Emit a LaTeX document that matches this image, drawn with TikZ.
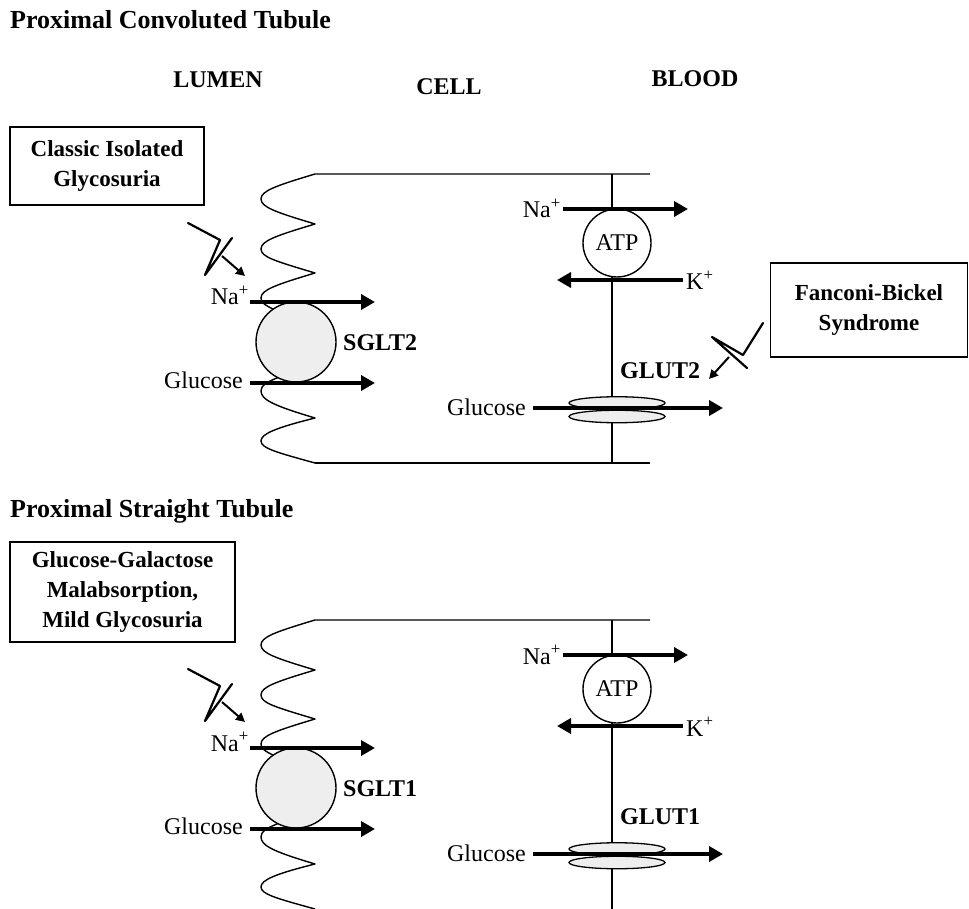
\documentclass[tikz,border=0pt]{standalone}
\usepackage{fontspec}
\setmainfont{Liberation Serif}
\usetikzlibrary{arrows.meta,shapes.geometric}
\definecolor{protfill}{HTML}{EEEEEE}
\newcommand\labfont{\fontsize{24}{28}\selectfont}
\tikzset{
  membrane/.style={line width=1.4pt, line join=round},
  bigarrow/.style={line width=4.8pt, -{Triangle[length=14pt,width=15pt]}},
  smallarrow/.style={line width=2pt, -{Triangle[length=9pt,width=9pt]}},
  bolt/.style={line width=2.2pt, line join=round, line cap=round},
  carrier/.style={circle, draw, line width=1.4pt, fill=protfill, minimum size=80pt, inner sep=0pt},
  pump/.style={circle, draw, line width=1.4pt, fill=white, minimum size=68pt, inner sep=0pt, font=\labfont},
  channel/.style={ellipse, draw, line width=1.3pt, fill=protfill, minimum width=96pt, minimum height=12.5pt, inner sep=0pt},
  lab/.style={font=\labfont, inner sep=0pt},
  boldlab/.style={font=\labfont\bfseries, inner sep=0pt},
  headtext/.style={font=\fontsize{26}{30}\selectfont\bfseries, inner sep=0pt, anchor=base west},
  disbox/.style={draw, line width=1.5pt, inner sep=0pt, align=center, font=\fontsize{23}{30}\selectfont\bfseries},
}
\newcommand\tubulepanel[4]{%
\begin{scope}[shift={(0,#1)}]
  % apical (lumen) brush-border membrane
  \draw[membrane] (650,174) -- (315,174)
    .. controls (275,186) and (261,191) .. (261,199)
    .. controls (261,207) and (275,212) .. (315,224)
    .. controls (275,236) and (261,241) .. (261,249)
    .. controls (261,257) and (275,261) .. (315,273)
    .. controls (275,285) and (261,290) .. (261,298)
    .. controls (261,304) and (270,309) .. (290,315);
  \draw[membrane] (285,375)
    .. controls (265,382) and (261,386) .. (261,391)
    .. controls (261,400) and (275,406) .. (315,418)
    .. controls (275,428) and (261,434) .. (261,441)
    .. controls (261,448) and (275,452) .. (315,463);
  % basolateral membrane
  \coordinate (#2mtop) at (612,174);
  \coordinate (#2mbot) at (612,463);
  \draw[membrane] (#2mtop) -- (#2mbot);
  % transport proteins
  \node[carrier] (#2sglt) at (296,342) {};
  \node[pump] (#2atp) at (617,243) {ATP};
  \node[channel] (#2chA) at (617,403) {};
  \node[channel] (#2chB) at (617,416.5) {};
  % labels
  \node[lab, anchor=base east] (#2naL) at (249,305) {Na\textsuperscript{+}};
  \node[lab, anchor=base east] (#2glcL) at (243,388) {Glucose};
  \node[boldlab, anchor=base west] (#2sgltL) at (343,350) {#3};
  \node[lab, anchor=base east] (#2naR) at (561,218) {Na\textsuperscript{+}};
  \node[lab, anchor=base west] (#2kR) at (686,290) {K\textsuperscript{+}};
  \node[boldlab, anchor=base west] (#2glutL) at (620,378) {#4};
  \node[lab, anchor=base east] (#2glcR) at (526,415) {Glucose};
  % arrows
  \coordinate (#2a1s) at (250,302); \coordinate (#2a1e) at (375,302);
  \coordinate (#2a2s) at (250,383); \coordinate (#2a2e) at (375,383);
  \coordinate (#2a3s) at (563,209); \coordinate (#2a3e) at (688,209);
  \coordinate (#2a4s) at (683,280); \coordinate (#2a4e) at (557,280);
  \coordinate (#2a5s) at (533,408); \coordinate (#2a5e) at (723,408);
  \draw[bigarrow] (#2a1s) -- (#2a1e);
  \draw[bigarrow] (#2a2s) -- (#2a2e);
  \draw[bigarrow] (#2a3s) -- (#2a3e);
  \draw[bigarrow] (#2a4s) -- (#2a4e);
  \draw[bigarrow] (#2a5s) -- (#2a5e);
  % mutation symbol at the apical transporter
  \coordinate (#2bA) at (188,223);
  \coordinate (#2bB) at (220,240);
  \coordinate (#2bC) at (205,275);
  \coordinate (#2bD) at (232,238);
  \coordinate (#2bS) at (222,256);
  \coordinate (#2bT) at (245,276);
  \draw[bolt] (#2bA) -- (#2bB) -- (#2bC) -- (#2bD);
  \draw[smallarrow] (#2bS) -- (#2bT);
\end{scope}}

\begin{document}
\begin{tikzpicture}[x=1pt,y=-1pt]
  \useasboundingbox (0,0) rectangle (969,909);

  % ---------- Proximal Convoluted Tubule ----------
  \node[headtext] (title1) at (10,29) {Proximal Convoluted Tubule};
  \node[font=\labfont\bfseries, inner sep=0pt, anchor=base] (lumen) at (218,88) {LUMEN};
  \node[font=\labfont\bfseries, inner sep=0pt, anchor=base] (cell) at (449,95) {CELL};
  \node[font=\labfont\bfseries, inner sep=0pt, anchor=base] (blood) at (695,87) {BLOOD};

  \tubulepanel{0}{p}{SGLT2}{GLUT2}
  \coordinate (pbotR) at (650,463);
  \draw[membrane] (315,463) -- (pbotR);

  \node[disbox, minimum width=194pt, minimum height=78pt] (box1) at (107,166)
    {Classic Isolated\\Glycosuria};
  \node[disbox, minimum width=197pt, minimum height=94pt] (box2) at (869,310)
    {Fanconi-Bickel\\Syndrome};

  % mutation symbol at GLUT2
  \coordinate (rbA) at (763,323);
  \coordinate (rbB) at (743,355);
  \coordinate (rbC) at (712,337);
  \coordinate (rbD) at (747,368);
  \coordinate (rbS) at (729,357);
  \coordinate (rbT) at (709,379);
  \draw[bolt] (rbA) -- (rbB) -- (rbC) -- (rbD);
  \draw[smallarrow] (rbS) -- (rbT);

  % ---------- Proximal Straight Tubule ----------
  \node[headtext] (title2) at (10,517) {Proximal Straight Tubule};
  \tubulepanel{446}{q}{SGLT1}{GLUT1}
  \node[disbox, minimum width=225pt, minimum height=100pt] (box3) at (122.5,592)
    {Glucose-Galactose\\Malabsorption,\\Mild Glycosuria};
\end{tikzpicture}
\end{document}
